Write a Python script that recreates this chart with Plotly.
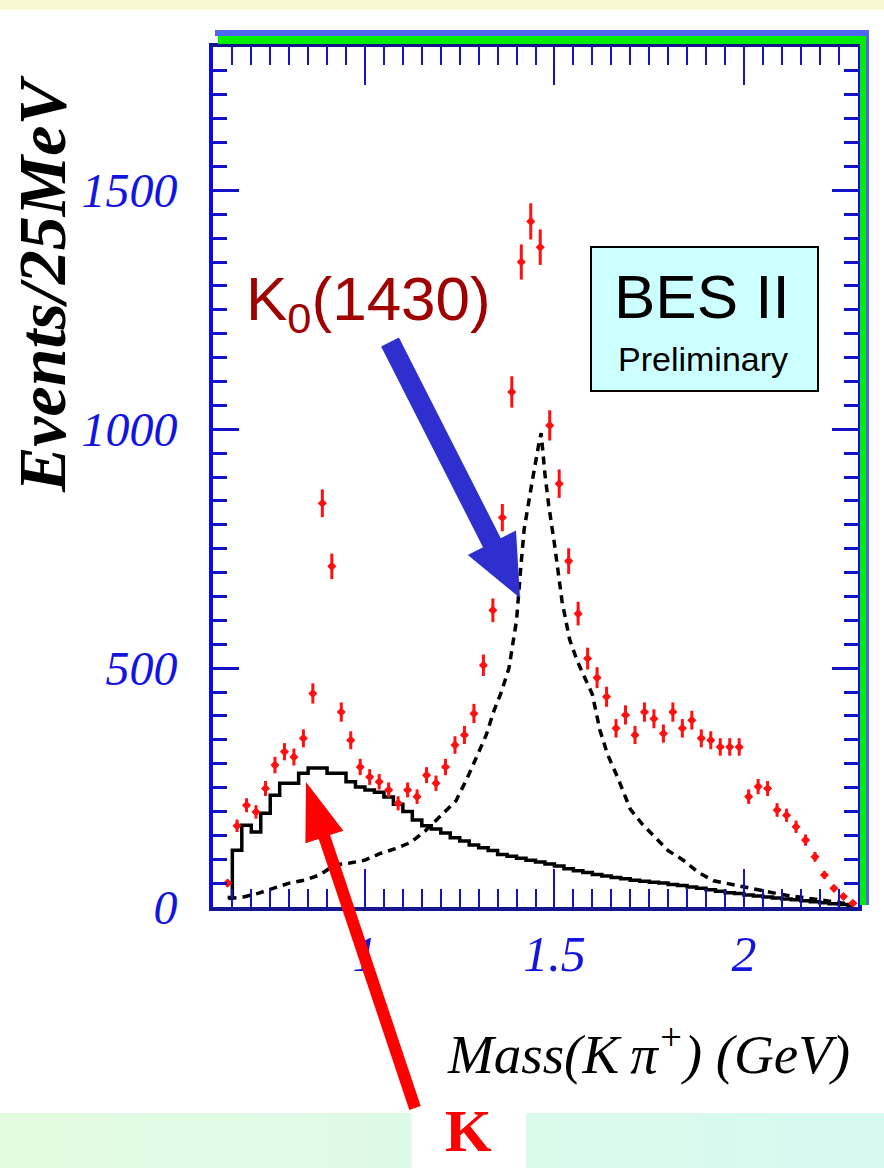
import plotly.graph_objects as go

# ---------------- data ----------------
mass = [round(0.6375 + 0.025 * i, 4) for i in range(67)]  # 25 MeV bin centres (GeV)

events = [50, 170, 213, 199, 248, 297, 325, 314, 353, 447,
          845, 713, 408, 349, 293, 272, 262, 245, 217, 245,
          231, 276, 259, 293, 339, 360, 405, 506, 621, 815,
          1078, 1350, 1435, 1381, 1008, 886, 724, 614, 520, 480,
          440, 374, 402, 360, 408, 394, 363, 408, 374, 391,
          353, 349, 335, 335, 335, 231, 252, 248, 203, 192,
          168, 140, 105, 67, 39, 22, 8]

solid_hist = [20, 119, 171, 157, 196, 234, 259, 259, 280, 291,
              291, 280, 280, 262, 251, 245, 240, 230, 215, 200,
              182, 170, 163, 155, 145, 138, 130, 124, 118, 110,
              106, 102, 98, 94, 90, 86, 80, 76, 72, 68,
              65, 62, 59, 56, 54, 52, 50, 47, 45, 42,
              39, 36, 33, 30, 28, 25, 23, 21, 19, 17,
              15, 13, 11, 9, 7, 5, 3]

dash_mass = [0.64, 0.68, 0.72, 0.76, 0.80, 0.84, 0.88, 0.92, 0.96, 1.00,
             1.04, 1.08, 1.12, 1.16, 1.20, 1.24, 1.27, 1.30, 1.32, 1.34,
             1.36, 1.38, 1.40, 1.41, 1.42, 1.44, 1.45, 1.46, 1.465, 1.475,
             1.485, 1.50, 1.52, 1.54, 1.56, 1.58, 1.60, 1.62, 1.64, 1.67,
             1.70, 1.73, 1.76, 1.80, 1.84, 1.88, 1.92, 1.96, 2.00, 2.05,
             2.10, 2.15, 2.20, 2.25, 2.29]
dash_vals = [18, 21, 29, 40, 50, 56, 67, 88, 92, 98,
             112, 122, 135, 160, 190, 222, 270, 322, 360, 410,
             450, 500, 600, 700, 790, 885, 935, 975, 992, 905,
             840, 760, 640, 560, 515, 480, 445, 370, 320, 265,
             205, 175, 150, 118, 98, 72, 55, 48, 42, 34,
             26, 20, 14, 9, 5]

x_tick_vals = [1, 1.5, 2]
x_tick_text = ["1", "1.5", "2"]
y_tick_vals = [0, 500, 1000, 1500]
y_tick_text = ["0", "500", "1000", "1500"]

# ---------------- layout geometry ----------------
W, H = 884, 1168
L, R, T, B = 213, 858, 47, 907  # plot area in pixels


def px(x):
    return (x - L) / (R - L)


def py(y):
    return (B - y) / (B - T)


def poly(points):
    return "M " + " L ".join(f"{px(a):.5f},{py(b):.5f}" for a, b in points) + " Z"


fig = go.Figure()

fig.add_trace(go.Scatter(
    x=dash_mass, y=dash_vals, mode="lines",
    line=dict(color="black", width=3.5, dash="8px,6px"),
    showlegend=False, hoverinfo="skip"))

fig.add_trace(go.Scatter(
    x=mass, y=solid_hist, mode="lines",
    line=dict(color="black", width=3.5, shape="hvh"),
    showlegend=False, hoverinfo="skip"))

fig.add_trace(go.Scatter(
    x=mass, y=events, mode="markers",
    marker=dict(symbol="diamond", size=7, color="#ff1010"),
    error_y=dict(type="sqrt", thickness=3, width=0, color="#ff1010"),
    error_x=dict(type="constant", value=0.008, thickness=3, width=0, color="#ff1010"),
    showlegend=False))

tick_blue = "#1212c8"
label_blue = "#1414e0"

fig.update_xaxes(
    range=[0.599, 2.301], showgrid=False, zeroline=False,
    showline=True, linecolor="#16168c", linewidth=4, mirror="allticks",
    ticks="inside", ticklen=38, tickwidth=2, tickcolor=tick_blue,
    tickvals=x_tick_vals, ticktext=x_tick_text,
    minor=dict(dtick=0.05, tick0=0, ticks="inside", ticklen=18, tickwidth=2, tickcolor=tick_blue),
    tickfont=dict(family="Liberation Serif, DejaVu Serif", size=50, color=label_blue, style="italic"),
    ticklabelstandoff=0)

fig.update_yaxes(
    range=[0, 1800], showgrid=False, zeroline=False,
    showline=True, linecolor="#0a0af0", linewidth=4, mirror="allticks",
    ticks="inside", ticklen=26, tickwidth=3, tickcolor=tick_blue,
    tickvals=y_tick_vals, ticktext=y_tick_text,
    minor=dict(dtick=50, tick0=0, ticks="inside", ticklen=14, tickwidth=3, tickcolor=tick_blue),
    tickfont=dict(family="Liberation Serif, DejaVu Serif", size=48, color=label_blue, style="italic"),
    ticklabelstandoff=22)

shapes = []
# top pale-yellow strip
shapes.append(dict(type="rect", xref="paper", yref="paper", x0=px(0), x1=px(W), y0=py(10), y1=py(0),
                   fillcolor="#f8f8d2", line=dict(width=0), layer="below"))
# bottom gradient band (with a white gap behind the "K")
n = 24
c0 = (228, 250, 224)
c1 = (214, 250, 242)
for i in range(n):
    xa, xb = W * i / n, W * (i + 1) / n
    t = (i + 0.5) / n
    col = "rgb(%d,%d,%d)" % tuple(int(c0[k] + (c1[k] - c0[k]) * t) for k in range(3))
    segs = []
    if xb <= 411 or xa >= 526:
        segs = [(xa, xb)]
    else:
        if xa < 411:
            segs.append((xa, 411))
        if xb > 526:
            segs.append((526, xb))
    for a, b in segs:
        shapes.append(dict(type="rect", xref="paper", yref="paper", x0=px(a), x1=px(b + 0.5),
                           y0=py(H), y1=py(1113), fillcolor=col, line=dict(width=0), layer="below"))

# frame decorations: blue + green borders top and right
shapes.append(dict(type="rect", xref="paper", yref="paper", x0=px(215), x1=px(869), y0=py(36), y1=py(30),
                   fillcolor="#4f66f0", line=dict(width=0)))
shapes.append(dict(type="rect", xref="paper", yref="paper", x0=px(218), x1=px(866), y0=py(44), y1=py(36),
                   fillcolor="#00ee00", line=dict(width=0)))
shapes.append(dict(type="rect", xref="paper", yref="paper", x0=px(866), x1=px(869), y0=py(905), y1=py(30),
                   fillcolor="#4f66f0", line=dict(width=0)))
shapes.append(dict(type="rect", xref="paper", yref="paper", x0=px(860), x1=px(866), y0=py(905), y1=py(36),
                   fillcolor="#00ee00", line=dict(width=0)))

# BES II box
shapes.append(dict(type="rect", xref="paper", yref="paper", x0=px(591), x1=px(818), y0=py(391), y1=py(247),
                   fillcolor="#ccffff", line=dict(color="black", width=2)))

# blue arrow towards K0(1430)
shapes.append(dict(type="path", xref="paper", yref="paper",
                   path=poly([(398.9, 337.5), (500.8, 538.2), (516.0, 530.5), (520.0, 598.0),
                              (467.8, 554.9), (483.0, 547.2), (381.1, 346.5)]),
                   fillcolor="#2f2fd0", line=dict(width=0)))
# red arrow towards K*(892)
shapes.append(dict(type="path", xref="paper", yref="paper",
                   path=poly([(420.7, 1106.1), (330.1, 835.1), (343.4, 830.7), (306.0, 782.0),
                              (305.4, 843.3), (318.7, 838.9), (409.3, 1109.9)]),
                   fillcolor="#ff0000", line=dict(width=0)))

annotations = [
    dict(text="<b><i>Events/25MeV</i></b>", x=px(42), y=py(285), textangle=-90,
         font=dict(family="Liberation Serif, DejaVu Serif", size=68, color="black")),
    dict(text="K<sub>0</sub>(1430)", x=px(368), y=py(303),
         font=dict(family="Liberation Sans, Arial", size=62, color="#a00000")),
    dict(text="BES II", x=px(702), y=py(296),
         font=dict(family="Liberation Sans, Arial", size=62, color="black")),
    dict(text="Preliminary", x=px(703), y=py(359),
         font=dict(family="Liberation Sans, Arial", size=34, color="black")),
    dict(text="<i>Mass(K\u2009\u03c0<sup>+</sup>) (GeV)</i>", x=px(648), y=py(1050),
         font=dict(family="Liberation Serif, DejaVu Serif", size=55, color="black")),
    dict(text="<b>K</b>", x=px(468), y=py(1131),
         font=dict(family="Liberation Serif, DejaVu Serif", size=60, color="#ff0000")),
]
for a in annotations:
    a.update(xref="paper", yref="paper", xanchor="center", yanchor="middle", showarrow=False)

fig.update_layout(
    width=W, height=H,
    margin=dict(l=L, r=W - R, t=T, b=H - B, pad=0),
    paper_bgcolor="white", plot_bgcolor="white",
    shapes=shapes, annotations=annotations, showlegend=False)

fig.write_html("out.html", config={"displayModeBar": False},
               post_script="document.body.style.margin='0';")
